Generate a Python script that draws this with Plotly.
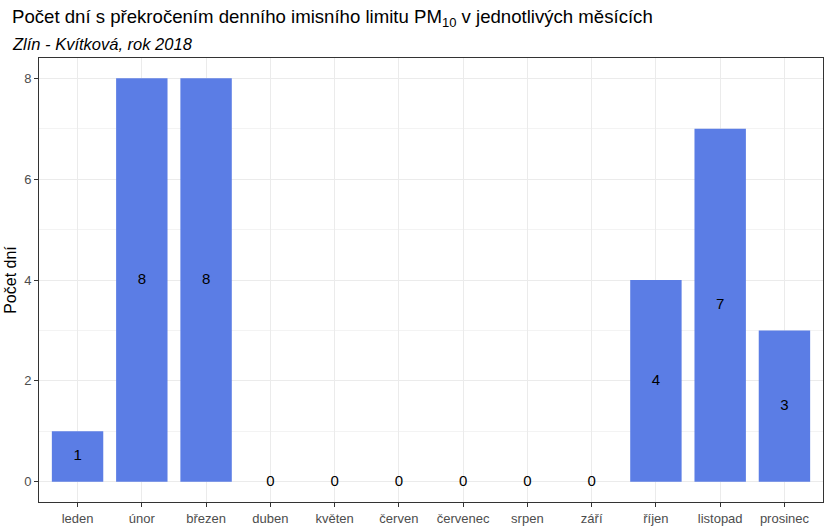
import plotly.graph_objects as go

months = ["leden", "únor", "březen", "duben", "květen", "červen", "červenec",
          "srpen", "září", "říjen", "listopad", "prosinec"]
counts = [1, 8, 8, 0, 0, 0, 0, 0, 0, 4, 7, 3]
y_ticks = [0, 2, 4, 6, 8]

title = "Počet dní s překročením denního imisního limitu PM<sub>10</sub> v jednotlivých měsících"
subtitle = "<i>Zlín - Kvítková, rok 2018</i>"

FONT = "Liberation Sans, Arial, sans-serif"

fig = go.Figure()
fig.add_trace(go.Bar(x=months, y=counts, width=0.8, marker_color="#5b7de5",
                     marker_line_width=0, showlegend=False, hoverinfo="skip"))
fig.add_trace(go.Scatter(x=months, y=[c / 2 for c in counts], mode="text",
                         text=[str(c) for c in counts],
                         textfont=dict(size=15, color="black", family=FONT),
                         showlegend=False, hoverinfo="skip"))

axis_common = dict(showline=True, linecolor="#333333", linewidth=1, mirror=True,
                   ticks="outside", ticklen=4, tickcolor="#333333",
                   tickfont=dict(size=13, color="#4d4d4d", family=FONT),
                   gridcolor="#ebebeb", gridwidth=1, zeroline=False, automargin=False)

fig.update_layout(
    width=831, height=529,
    margin=dict(l=39, r=8, t=58, b=27),
    paper_bgcolor="white", plot_bgcolor="white",
    font=dict(family=FONT),
    bargap=0.2,
    xaxis=dict(range=[-0.6, 11.6], type="category", **axis_common),
    yaxis=dict(range=[-0.4, 8.4], tickvals=y_ticks,
               minor=dict(dtick=1, tick0=0, showgrid=True, gridcolor="#f3f3f3", ticks=""),
               title=dict(text="Počet dní", font=dict(size=16, color="black", family=FONT), standoff=3),
               **axis_common),
    annotations=[
        dict(text=title, xref="paper", yref="paper", x=-0.0365, y=1.0, xanchor="left",
             yanchor="bottom", yshift=26, showarrow=False,
             font=dict(size=18.6, color="black", family=FONT)),
        dict(text=subtitle, xref="paper", yref="paper", x=-0.0365, y=1.0, xanchor="left",
             yanchor="bottom", yshift=3, showarrow=False,
             font=dict(size=16.5, color="black", family=FONT)),
    ],
)

fig.write_html("out.html")
